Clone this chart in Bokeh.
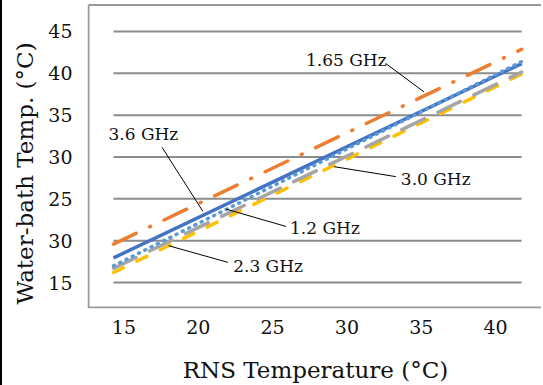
from bokeh.plotting import figure
from bokeh.models import Range1d, FixedTicker, Label, Title
from bokeh.embed import file_html
from bokeh.resources import INLINE

# ---------------- data ----------------
rns_temp = [14.3, 41.75]
bath_1_2 = [17.0, 41.4]
bath_1_65 = [19.6, 42.85]
bath_2_3 = [16.2, 39.9]
bath_3_0 = [16.7, 40.15]
bath_3_6 = [17.95, 41.15]

x_ticks = [15, 20, 25, 30, 35, 40]
y_ticks = [15, 20, 25, 30, 35, 40, 45]
y_tick_labels = ["15", "30", "25", "30", "35", "40", "45"]

x_title = "RNS Temperature (°C)"
y_title = "Water-bath Temp. (°C)"

# ---------------- layout (pixels, picture coords) ----------------
OFF = 2                            # black strip on the left edge
W, H = 543 - OFF, 385
FL, FT, FB, FR = 86, 3, 309, 543   # frame left / top / bottom / right (picture px)
PX_X, PX_Y = 14.9, 8.4             # px per unit
X15_PX, Y15_PX = 122.5, 283.0

x0 = 15 - (X15_PX - FL) / PX_X
x1 = x0 + (FR - FL) / PX_X
y0 = 15 - (FB - Y15_PX) / PX_Y
y1 = y0 + (FB - FT) / PX_Y


def fx(px):
    return 15 + (px - X15_PX) / PX_X


def fy(py):
    return 15 + (Y15_PX - py) / PX_Y


p = figure(width=W, height=H, x_range=Range1d(x0, x1), y_range=Range1d(y0, y1),
           output_backend="svg", toolbar_location=None,
           min_border_left=FL - OFF, min_border_right=0, min_border_top=FT,
           min_border_bottom=H - FB)
p.styles = {"border-left": "2px solid black"}
p.outline_line_color = None
p.background_fill_color = "white"
p.border_fill_color = "white"
p.xgrid.visible = False
p.ygrid.visible = False

FONT = "DejaVu Serif"
for ax in (p.xaxis[0], p.yaxis[0]):
    ax.axis_line_color = None
    ax.major_tick_line_color = None
    ax.minor_tick_line_color = None
    ax.major_tick_out = 0
    ax.major_tick_in = 0
    ax.major_label_text_font = FONT
    ax.major_label_text_font_size = "19px"
    ax.major_label_text_color = "#111111"
p.xaxis.ticker = FixedTicker(ticks=x_ticks)
p.yaxis.ticker = FixedTicker(ticks=y_ticks)
p.yaxis.major_label_overrides = {t: l for t, l in zip(y_ticks, y_tick_labels)}
p.xaxis.major_label_standoff = 11
p.yaxis.major_label_standoff = 15

p.xaxis.axis_label = x_title
p.xaxis.axis_label_text_font = FONT
p.xaxis.axis_label_text_font_size = "23px"
p.xaxis.axis_label_text_font_style = "normal"
p.xaxis.axis_label_text_color = "#111111"
p.xaxis.axis_label_standoff = 20

p.add_layout(Title(text=y_title, align="left", offset=4, text_font=FONT,
                   text_font_size="23px", text_font_style="normal",
                   text_color="#111111", standoff=15), "left")

# frame (top, left, bottom); right edge runs off the picture
fc = "#9a9a9a"
p.segment(x0=[fx(87), fx(87), x0], y0=[fy(4.5), fy(4.5), fy(308)],
          x1=[x1, fx(87), x1], y1=[fy(4.5), fy(308), fy(308)],
          line_color=fc, line_width=2)

# gridlines
p.segment(x0=[rns_temp[0]] * len(y_ticks), y0=y_ticks,
          x1=[rns_temp[-1]] * len(y_ticks), y1=y_ticks,
          line_color="#8c8c8c", line_width=2)

LW = 3.5
p.line(rns_temp, bath_1_65, line_color="#ED7D31", line_width=LW,
       line_dash="25 15 1 15", line_cap="round")
p.line(rns_temp, bath_2_3, line_color="#FFC000", line_width=LW,
       line_dash="11 15", line_cap="round")
p.line(rns_temp, bath_3_0, line_color="#A5A5A5", line_width=LW,
       line_dash="25 15", line_cap="round")
p.line(rns_temp, bath_3_6, line_color="#4472C4", line_width=LW)
p.line(rns_temp, bath_1_2, line_color="#5B9BD5", line_width=LW,
       line_dash="1 6", line_cap="round")

# annotations: (text, text-left px, text-center-y px, leader (x0,y0,x1,y1) px)
notes = [
    ("1.65 GHz", 305, 60, (385, 63.3, 423.3, 91.7)),
    ("3.0 GHz", 400, 179, (333, 166.7, 395, 176.7)),
    ("3.6 GHz", 107, 134, (160.7, 147.3, 201.7, 211.7)),
    ("1.2 GHz", 289, 228, (225, 209.3, 285, 226.7)),
    ("2.3 GHz", 232, 266, (167.3, 246, 226.7, 262.7)),
]
for txt, tx, ty, (a, b, c, d) in notes:
    p.segment(x0=[fx(a)], y0=[fy(b)], x1=[fx(c)], y1=[fy(d)],
              line_color="black", line_width=1)
    p.add_layout(Label(x=fx(tx), y=fy(ty), text=txt, text_font=FONT,
                       text_font_size="17px", text_align="left",
                       text_baseline="middle", text_color="#111111"))

open("out.html", "w").write(file_html(p, INLINE))
